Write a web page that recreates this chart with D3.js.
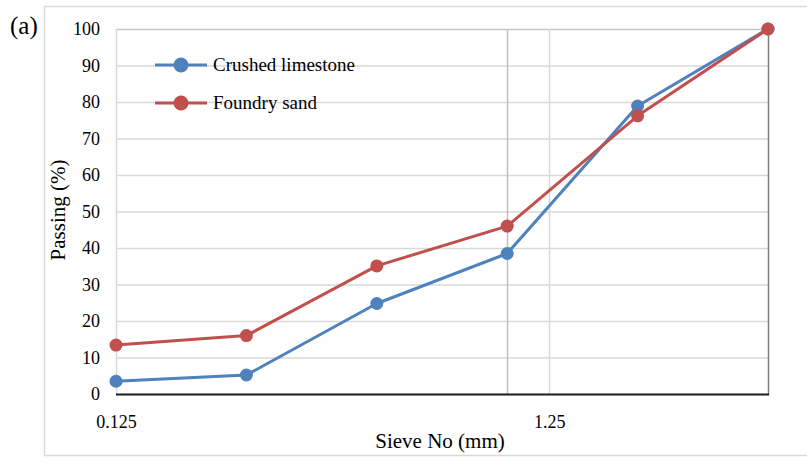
<!DOCTYPE html>
<html>
<head>
<meta charset="utf-8">
<script src="https://cdn.jsdelivr.net/npm/d3@7"></script>
<style>
  html, body { margin: 0; padding: 0; background: #fff; }
  svg { display: block; font-family: "Liberation Serif", "Times New Roman", serif; }
</style>
</head>
<body>
<svg id="chart" width="807" height="458"></svg>
<script>
// Sieve sizes (mm) and cumulative passing (%)
const sieveSizes = [0.125, 0.25, 0.5, 1, 2, 4];
const crushedLimestone = [3.5, 5.2, 24.8, 38.5, 78.9, 100];
const foundrySand = [13.4, 16.0, 35.1, 46.0, 76.2, 100];
const seriesNames = ["Crushed limestone", "Foundry sand"];
const seriesColors = ["#4f81bd", "#c0504d"];
const xTicks = [0.125, 1.25];
const yTicks = [0, 10, 20, 30, 40, 50, 60, 70, 80, 90, 100];

const svg = d3.select("#chart");
const m = { left: 116, right: 768, top: 29, bottom: 394 };
const serif = "Liberation Serif, Times New Roman, serif";

const x = d3.scaleLog().base(10).domain([0.125, 4]).range([m.left, m.right]);
const y = d3.scaleLinear().domain([0, 100]).range([m.bottom, m.top]);

// outer chart frame
svg.append("rect")
  .attr("x", 44.5).attr("y", 6.5).attr("width", 780).attr("height", 449)
  .attr("fill", "none").attr("stroke", "#d9d9d9").attr("stroke-width", 1.5);

// horizontal gridlines
svg.append("g").selectAll("line").data(yTicks.filter(d => d > 0)).join("line")
  .attr("x1", m.left).attr("x2", m.right)
  .attr("y1", d => y(d) + 0.5).attr("y2", d => y(d) + 0.5)
  .attr("stroke", d => d === 100 ? "#c6c6c6" : "#d9d9d9").attr("stroke-width", 1.5);

// vertical gridlines
svg.append("g").selectAll("line").data(xTicks).join("line")
  .attr("x1", d => Math.round(x(d)) + 0.5).attr("x2", d => Math.round(x(d)) + 0.5)
  .attr("y1", m.top).attr("y2", m.bottom)
  .attr("stroke", "#d9d9d9").attr("stroke-width", 1.5);

// reference line at 1 mm
svg.append("line")
  .attr("x1", Math.round(x(1)) + 0.5).attr("x2", Math.round(x(1)) + 0.5)
  .attr("y1", m.top).attr("y2", m.bottom)
  .attr("stroke", "#bfbfbf").attr("stroke-width", 1.5);

// right axis line
svg.append("line")
  .attr("x1", m.right + 0.5).attr("x2", m.right + 0.5)
  .attr("y1", m.top).attr("y2", m.bottom + 1)
  .attr("stroke", "#808080").attr("stroke-width", 1.5);

// bottom axis line
svg.append("line")
  .attr("x1", m.left).attr("x2", m.right + 1)
  .attr("y1", m.bottom + 0.5).attr("y2", m.bottom + 0.5)
  .attr("stroke", "#1a1a1a").attr("stroke-width", 2);

// y tick labels
const yAxis = d3.axisLeft(y).tickValues(yTicks).tickSize(0).tickPadding(16);
const gy = svg.append("g").attr("transform", `translate(${m.left},0)`).call(yAxis);
gy.select(".domain").remove();
gy.selectAll("text").attr("font-size", 18).attr("fill", "#000").attr("font-family", serif);

// x tick labels
const xAxis = d3.axisBottom(x).tickValues(xTicks).tickFormat(d => String(d)).tickSize(0).tickPadding(21);
const gx = svg.append("g").attr("transform", `translate(0,${m.bottom})`).call(xAxis);
gx.select(".domain").remove();
gx.selectAll("text").attr("font-size", 18).attr("fill", "#000").attr("font-family", serif);

// axis titles
svg.append("text").attr("x", 440).attr("y", 448).attr("text-anchor", "middle")
  .attr("font-size", 21).text("Sieve No (mm)");
svg.append("text").attr("transform", "translate(65,210) rotate(-90)")
  .attr("text-anchor", "middle").attr("font-size", 21).text("Passing (%)");

// panel label
svg.append("text").attr("x", 10).attr("y", 34).attr("font-size", 25).text("(a)");

// series
const series = [crushedLimestone, foundrySand];
const line = d3.line().x((d, i) => x(sieveSizes[i])).y(d => y(d));
series.forEach((vals, k) => {
  const g = svg.append("g");
  g.append("path").datum(vals).attr("d", line)
    .attr("fill", "none").attr("stroke", seriesColors[k]).attr("stroke-width", 3)
    .attr("stroke-linejoin", "round");
  g.selectAll("circle").data(vals).join("circle")
    .attr("cx", (d, i) => x(sieveSizes[i])).attr("cy", d => y(d)).attr("r", 6.5)
    .attr("fill", seriesColors[k]);
});

// legend
const legend = svg.append("g");
seriesNames.forEach((name, k) => {
  const ly = 65 + k * 38;
  legend.append("line").attr("x1", 155).attr("x2", 207).attr("y1", ly).attr("y2", ly)
    .attr("stroke", seriesColors[k]).attr("stroke-width", 3);
  legend.append("circle").attr("cx", 181).attr("cy", ly).attr("r", 7.5).attr("fill", seriesColors[k]);
  legend.append("text").attr("x", 213).attr("y", ly + 6).attr("font-size", 19).text(name);
});
</script>
</body>
</html>
